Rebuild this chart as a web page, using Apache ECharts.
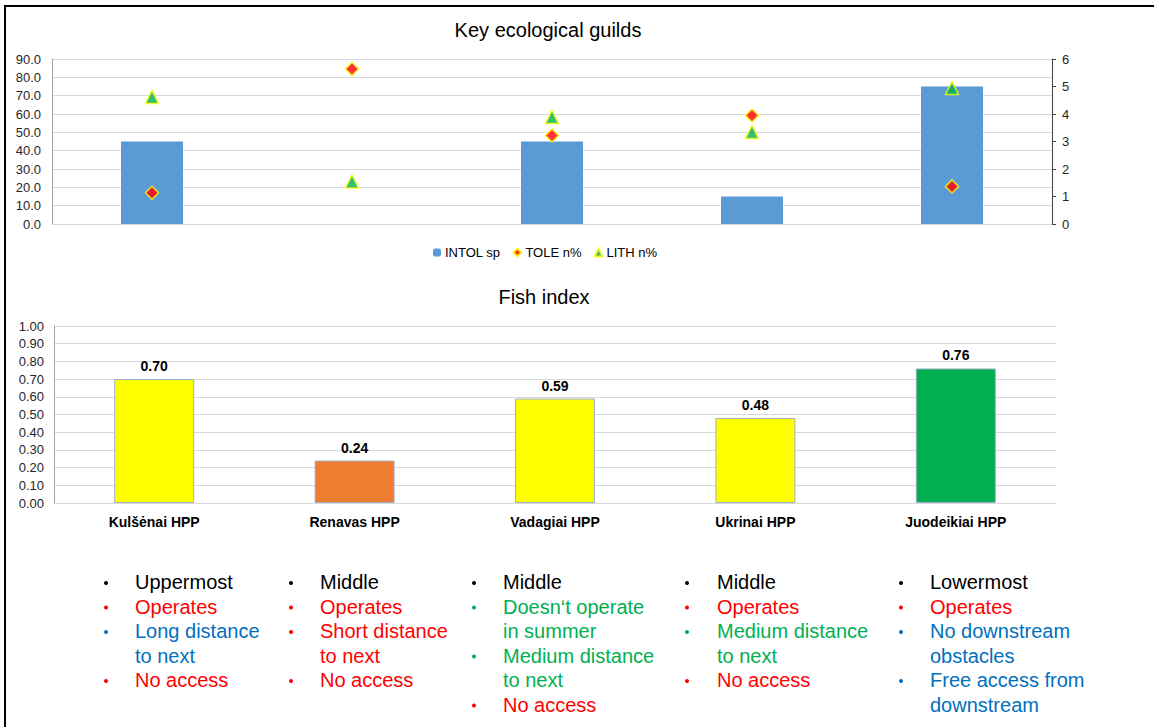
<!DOCTYPE html>
<html>
<head>
<meta charset="utf-8">
<script src="https://cdn.jsdelivr.net/npm/echarts@6/dist/echarts.min.js"></script>
<style>
html,body{margin:0;padding:0;background:#fff;}
#wrap{position:relative;width:1154px;height:727px;overflow:hidden;}
#chart{position:absolute;left:0;top:0;width:1154px;height:727px;}
#frame{position:absolute;left:4px;top:5px;width:1200px;height:800px;border-left:2px solid #000;border-top:2px solid #000;pointer-events:none;}
</style>
</head>
<body>
<div id="wrap"><div id="chart"></div><div id="frame"></div></div>
<script>
// ---- data ----
const categories = ['Kulšėnai HPP', 'Renavas HPP', 'Vadagiai HPP', 'Ukrinai HPP', 'Juodeikiai HPP'];
const intolSp = [3, 0, 3, 1, 5];
const toleN = [17.0, 84.5, 48.3, 59.2, 20.5];
const lithN = [69.3, 23.2, 58.4, 50.2, 74.2];
const fishIndex = [0.70, 0.24, 0.59, 0.48, 0.76];
const fishClass = ['moderate', 'poor', 'moderate', 'moderate', 'good'];
const guildTicksLeft = { min: 0, max: 90, interval: 10 };
const guildTicksRight = { min: 0, max: 6, interval: 1 };
const fishTicks = { min: 0, max: 1, interval: 0.1 };

const notesKulsenai = [['Uppermost', 'neutral'], ['Operates', 'bad'], ['Long distance\nto next', 'best'], ['No access', 'bad']];
const notesRenavas = [['Middle', 'neutral'], ['Operates', 'bad'], ['Short distance\nto next', 'bad'], ['No access', 'bad']];
const notesVadagiai = [['Middle', 'neutral'], ['Doesn\u2018t operate\nin summer', 'good'], ['Medium distance\nto next', 'good'], ['No access', 'bad']];
const notesUkrinai = [['Middle', 'neutral'], ['Operates', 'bad'], ['Medium distance\nto next', 'good'], ['No access', 'bad']];
const notesJuodeikiai = [['Lowermost', 'neutral'], ['Operates', 'bad'], ['No downstream\nobstacles', 'best'], ['Free access from\ndownstream', 'best']];
const notes = [notesKulsenai, notesRenavas, notesVadagiai, notesUkrinai, notesJuodeikiai];

// ---- styles ----
const statusColor = { neutral: '#000000', bad: '#FF0000', good: '#00B050', best: '#0070C0' };
const classColor = { poor: '#ED7D31', moderate: '#FFFF00', good: '#00B050' };
const FONT = '"Liberation Sans", Arial, sans-serif';
const colBulletX = [106, 291, 474, 687, 901];
const colTextX = [135, 320, 503, 717, 930];
const rowY0 = 582, rowH = 24.5;

const graphics = [];
notes.forEach((col, ci) => {
  let row = 0;
  col.forEach(([txt, st]) => {
    const c = statusColor[st];
    const y = rowY0 + row * rowH;
    graphics.push({ type: 'circle', shape: { cx: colBulletX[ci], cy: y + 1, r: 2 }, style: { fill: c }, silent: true });
    txt.split('\n').forEach((line, li) => {
      graphics.push({
        type: 'text', x: colTextX[ci], y: rowY0 + (row + li) * rowH,
        style: { text: line, fill: c, font: '20px ' + FONT, textAlign: 'left', textVerticalAlign: 'middle' },
        silent: true
      });
    });
    row += txt.split('\n').length;
  });
});

const chart = echarts.init(document.getElementById('chart'), null, { renderer: 'svg' });
const gridLine = { show: true, lineStyle: { color: '#D9D9D9', width: 1 } };
chart.setOption({
  animation: false,
  textStyle: { fontFamily: FONT },
  title: [
    { text: 'Key ecological guilds', left: 543, top: 15, textAlign: 'center', textStyle: { fontSize: 20, fontWeight: 'normal', color: '#000', fontFamily: FONT } },
    { text: 'Fish index', left: 539, top: 282, textAlign: 'center', textStyle: { fontSize: 20, fontWeight: 'normal', color: '#000', fontFamily: FONT } }
  ],
  legend: {
    data: ['INTOL sp', 'TOLE n%', 'LITH n%'],
    left: 428, top: 241, itemWidth: 8, itemHeight: 8, itemGap: 12,
    textStyle: { fontSize: 13, color: '#000', fontFamily: FONT, padding: [0, 0, 0, -1] }
  },
  grid: [
    { left: 52, right: 102, top: 59, height: 165, containLabel: false },
    { left: 54, right: 98, top: 326, height: 177, containLabel: false }
  ],
  xAxis: [
    { type: 'category', gridIndex: 0, data: categories, axisLabel: { show: false }, axisTick: { show: false },
      axisLine: { show: true, lineStyle: { color: '#D9D9D9' } } },
    { type: 'category', gridIndex: 1, data: categories, axisTick: { show: false },
      axisLine: { show: true, lineStyle: { color: '#D9D9D9' } },
      axisLabel: { fontSize: 14, fontWeight: 'bold', color: '#000', margin: 12, fontFamily: FONT } }
  ],
  yAxis: [
    { type: 'value', gridIndex: 0, min: guildTicksLeft.min, max: guildTicksLeft.max, interval: guildTicksLeft.interval,
      axisLine: { show: true, lineStyle: { color: '#A6A6A6' } }, axisTick: { show: false }, splitLine: gridLine,
      axisLabel: { formatter: v => v.toFixed(1), fontSize: 13, color: '#262626', margin: 11, fontFamily: FONT } },
    { type: 'value', gridIndex: 0, position: 'right', min: guildTicksRight.min, max: guildTicksRight.max, interval: guildTicksRight.interval,
      axisLine: { show: true, lineStyle: { color: '#404040' } }, axisTick: { show: true, length: 4, lineStyle: { color: '#404040' } },
      splitLine: { show: false },
      axisLabel: { fontSize: 13, color: '#262626', margin: 10, fontFamily: FONT } },
    { type: 'value', gridIndex: 1, min: fishTicks.min, max: fishTicks.max, interval: fishTicks.interval,
      axisLine: { show: true, lineStyle: { color: '#A6A6A6' } }, axisTick: { show: false }, splitLine: gridLine,
      axisLabel: { formatter: v => v.toFixed(2), fontSize: 13, color: '#262626', margin: 10, fontFamily: FONT } }
  ],
  series: [
    { name: 'INTOL sp', type: 'bar', xAxisIndex: 0, yAxisIndex: 1, data: intolSp, barWidth: 62,
      itemStyle: { color: '#5B9BD5', borderWidth: 0 }, z: 2 },
    { name: 'TOLE n%', type: 'scatter', xAxisIndex: 0, yAxisIndex: 0, data: toleN, symbol: 'diamond', symbolSize: 13,
      itemStyle: { color: '#FF0000', borderColor: '#FFFF00', borderWidth: 1.5 }, z: 5 },
    { name: 'LITH n%', type: 'scatter', xAxisIndex: 0, yAxisIndex: 0, data: lithN, symbol: 'triangle', symbolSize: 13,
      itemStyle: { color: '#00B050', borderColor: '#FFFF00', borderWidth: 1.5 }, z: 5 },
    { name: 'Fish index', type: 'bar', xAxisIndex: 1, yAxisIndex: 2, barWidth: 80,
      data: fishIndex.map((v, i) => ({ value: v, itemStyle: { color: classColor[fishClass[i]] } })),
      itemStyle: { borderColor: '#9DAFC8', borderWidth: 1 },
      label: { show: true, position: 'top', distance: 6, formatter: p => p.value.toFixed(2), fontSize: 14, fontWeight: 'bold', color: '#000', fontFamily: FONT } }
  ],
  graphic: graphics
});
</script>
</body>
</html>
